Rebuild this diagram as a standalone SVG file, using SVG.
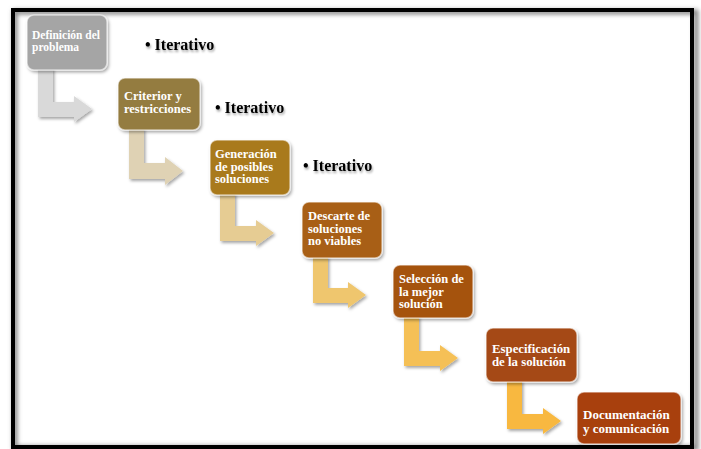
<svg xmlns="http://www.w3.org/2000/svg" width="701" height="449" viewBox="0 0 701 449">
<defs>
<filter id="sh" x="-20%" y="-20%" width="150%" height="150%">
<feDropShadow dx="1.5" dy="2" stdDeviation="1.5" flood-color="#000" flood-opacity="0.35"/>
</filter>
<filter id="tsh" x="-10%" y="-30%" width="130%" height="180%">
<feDropShadow dx="1" dy="2" stdDeviation="1.2" flood-color="#000" flood-opacity="0.35"/>
</filter>
<filter id="blur"><feGaussianBlur stdDeviation="2"/></filter>
<style>
.box{stroke:#ffffff;stroke-opacity:0.55;stroke-width:1.5;filter:url(#sh)}
.bt{font-family:"Liberation Serif","Times New Roman",serif;font-weight:bold;font-size:12.5px;fill:#ffffff}
.it{font-family:"Liberation Serif","Times New Roman",serif;font-weight:bold;font-size:16px;fill:#000000;filter:url(#tsh)}
.arr{filter:url(#sh)}
</style>
</defs>
<rect x="0" y="0" width="701" height="449" fill="#ffffff"/>
<g id="frame">
<rect x="15" y="12" width="681" height="436" fill="none" stroke="#888" stroke-width="5" filter="url(#blur)"/>
<rect x="13" y="10" width="679" height="437" fill="none" stroke="#000" stroke-width="4"/>
</g>
<g id="connectors">
<path class="arr" fill="#d9d9d9" d="M38,68 H53 V102 H74 V96 L92,109 L74,122 V117 H38 Z"/>
<path class="arr" fill="#dfd2b4" d="M129,128 H144 V163 H165 V157 L183,171 L165,185 V179 H129 Z"/>
<path class="arr" fill="#e6cc93" d="M220,193 H235 V226 H256 V220 L274,233 L256,246 V241 H220 Z"/>
<path class="arr" fill="#efc66e" d="M313,256 H328 V288 H348 V282 L366,295 L348,308 V303 H313 Z"/>
<path class="arr" fill="#f5c057" d="M404,316 H419 V351 H440 V345 L458,358 L440,371 V366 H404 Z"/>
<path class="arr" fill="#f8b83f" d="M507,380 H522 V414 H543 V408 L561,421 L543,434 V429 H507 Z"/>
</g>
<g id="n1">
<rect class="box" x="27" y="15" width="80" height="55" rx="7" fill="#a5a5a5"/>
<text class="bt" x="32" y="39" style="font-size:11.5px">Definición del</text>
<text class="bt" x="32" y="50.5" style="font-size:11.5px">problema</text>
</g>
<g id="n2">
<rect class="box" x="118" y="78" width="82" height="52" rx="7" fill="#947b3f"/>
<text class="bt" x="124" y="100">Criterior y</text>
<text class="bt" x="124" y="113">restricciones</text>
</g>
<g id="n3">
<rect class="box" x="210" y="140" width="80" height="55" rx="7" fill="#a97a1e"/>
<text class="bt" x="215" y="158">Generación</text>
<text class="bt" x="215" y="170.5">de posibles</text>
<text class="bt" x="215" y="183">soluciones</text>
</g>
<g id="n4">
<rect class="box" x="302" y="202" width="80" height="56" rx="7" fill="#a85e12"/>
<text class="bt" x="308" y="220">Descarte de</text>
<text class="bt" x="308" y="232.5">soluciones</text>
<text class="bt" x="308" y="245">no viables</text>
</g>
<g id="n5">
<rect class="box" x="393" y="265" width="80" height="53" rx="7" fill="#a5520f"/>
<text class="bt" x="399" y="283">Selección de</text>
<text class="bt" x="399" y="295.5">la mejor</text>
<text class="bt" x="399" y="308">solución</text>
</g>
<g id="n6">
<rect class="box" x="486" y="328" width="91" height="54" rx="7" fill="#a54a13"/>
<text class="bt" x="492" y="352.5" style="font-size:12.8px">Especificación</text>
<text class="bt" x="492" y="366" style="font-size:12.8px">de la solución</text>
</g>
<g id="n7">
<rect class="box" x="577" y="392" width="104" height="52" rx="7" fill="#a8400f"/>
<text class="bt" x="583" y="419" style="font-size:13px">Documentación</text>
<text class="bt" x="583" y="433" style="font-size:13px">y comunicación</text>
</g>
<g id="labels">
<text class="it" x="145" y="50">• Iterativo</text>
<text class="it" x="215" y="113">• Iterativo</text>
<text class="it" x="303" y="171">• Iterativo</text>
</g>
</svg>
